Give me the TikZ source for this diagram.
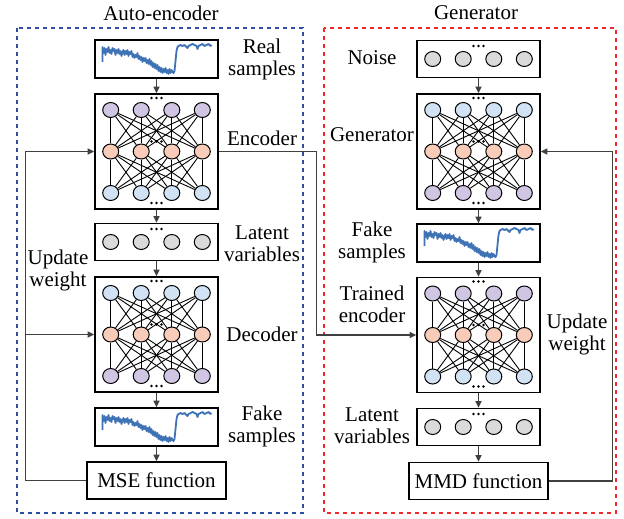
\documentclass[tikz,border=0pt]{standalone}
\usepackage{fontspec}
\setmainfont{Liberation Serif}
\usetikzlibrary{positioning,arrows.meta,shapes.geometric}

\definecolor{nPurple}{RGB}{208,198,228}
\definecolor{nOrange}{RGB}{248,204,184}
\definecolor{nBlue}{RGB}{208,226,243}
\definecolor{nGray}{RGB}{218,218,218}
\definecolor{waveBlue}{RGB}{62,114,180}
\definecolor{aeBlue}{RGB}{46,78,165}
\definecolor{genRed}{RGB}{238,40,45}
\definecolor{arrowGray}{RGB}{64,64,64}

\begin{document}
\begin{tikzpicture}[x=0.5pt, y=-0.5pt, font=\fontsize{10.5}{11}\selectfont,
  >={Triangle[length=3.4pt,width=3pt]},
  box/.style={draw, line width=0.65pt, minimum width=61.5pt, inner sep=0pt},
  netbox/.style={box, minimum height=57.5pt},
  wavebox/.style={box, minimum height=19pt},
  rowbox/.style={box, minimum height=18.5pt},
  lossbox/.style={box, minimum width=69.5pt, minimum height=18.5pt, inner sep=0pt},
  neuron/.style={draw, line width=0.5pt, ellipse, minimum width=8pt, minimum height=7.5pt, inner sep=0pt},
  link/.style={line width=0.45pt},
  lbl/.style={align=center, inner sep=0pt},
  flow/.style={->, draw=arrowGray, line width=0.75pt},
  wave/.style={draw=waveBlue, line width=0.9pt, line join=round},
  frame/.style={dashed, line width=0.6pt, dash pattern=on 2.2pt off 1.8pt}]
  \useasboundingbox (0,0) rectangle (624,518);

  % frames and titles
  \draw[frame, aeBlue] (17,28) rectangle (303,513);
  \draw[frame, genRed] (324,28) rectangle (616,513);
  \node (aeT) at (161,13) {Auto-encoder};
  \node (genT) at (476,13) {Generator};

  % left column
  \node[wavebox] (real) at (156.5,59) {};
  \node[netbox] (enc) at (156.5,151.5) {};
  \node[rowbox] (lat1) at (156.5,242) {};
  \node[netbox] (dec) at (156.5,334.5) {};
  \node[wavebox] (fake1) at (156.5,427) {};
  \node[lossbox] (mse) at (156.5,480.5) {MSE function};

  % right column
  \node[rowbox] (noise) at (478.5,59) {};
  \node[netbox] (gen) at (478.5,151.5) {};
  \node[wavebox] (fake2) at (478.5,243) {};
  \node[netbox] (ten) at (478.5,335) {};
  \node[rowbox] (lat2) at (478.5,427) {};
  \node[lossbox] (mmd) at (478.5,481) {MMD function};

  % networks
  \foreach \p/\cx/\cy/\ca/\cb/\cc in {enc/156.5/151.5/nPurple/nOrange/nBlue,
      dec/156.5/334.5/nBlue/nOrange/nPurple, gen/478.5/151.5/nBlue/nOrange/nPurple,
      ten/478.5/335/nPurple/nOrange/nBlue} {
    \foreach \r/\dy/\c in {1/-41.5/\ca, 2/0/\cb, 3/41.5/\cc}
      \foreach \i/\dx in {1/-45.8, 2/-15.3, 3/15.3, 4/45.8}
        \node[neuron, fill=\c] (\p-\r-\i) at (\cx+\dx,\cy+\dy) {};
    \foreach \i in {1,...,4}
      \foreach \j in {1,...,4} {
        \draw[link] (\p-1-\i) -- (\p-2-\j);
        \draw[link] (\p-2-\i) -- (\p-3-\j);
      }
    \foreach \dy in {-53.5,-10,51.5}
      \foreach \dx in {-5,0,5}
        \fill (\cx+\dx,\cy+\dy) circle[radius=1.3];
  }

  % latent and noise rows
  \foreach \p/\cx/\cy in {lat1/156.5/242, noise/478.5/59, lat2/478.5/427} {
    \foreach \i/\dx in {1/-45.8, 2/-15.3, 3/15.3, 4/45.8}
      \node[neuron, fill=nGray] (\p-\i) at (\cx+\dx,\cy) {};
    \foreach \dx in {-5,0,5}
      \fill (\cx+\dx,\cy-13) circle[radius=1.3];
  }

  % sample curves
  \foreach \cx/\cy in {156.5/59, 156.5/427, 478.5/243}
    \draw[wave, shift={(\cx,\cy)}] plot coordinates {(-54,3) (-54,-12) (-53,-6) (-52,-11)
      (-51,-4) (-50,-10) (-49,-7) (-48,-12) (-47,-6) (-46,-9) (-45,-5) (-44,-11) (-43,-8)
      (-42,-10) (-41,-4) (-40,-9) (-39,-6) (-38,-10) (-37,-5) (-36,-8) (-35,-3) (-34,-7)
      (-33,-9) (-32,-4) (-31,-8) (-30,-5) (-29,-9) (-28,-3) (-27,-7) (-26,-5) (-25,-8)
      (-24,-2) (-23,-5) (-22,-1) (-21,-4) (-20,-2) (-19,-6) (-18,0) (-17,-3) (-16,1)
      (-15,-2) (-14,3) (-13,-1) (-12,2) (-11,-1) (-10,4) (-9,1) (-8,5) (-7,0) (-6,6)
      (-5,2) (-4,8) (-3,4) (-2,9) (-1,5) (0,10) (1,6) (2,12) (3,8) (4,13) (5,9) (6,14)
      (7,10) (8,13) (9,9) (10,14) (11,11) (12,15) (13,10) (14,14) (15,11) (16,13) (17,14)
      (18,12) (19,2) (20,-8) (21,-12) (22,-13) (24,-14) (26,-13) (28,-14) (30,-12)
      (31,-11) (32,-13) (34,-14) (36,-15) (38,-14) (40,-13) (41,-10) (42,-13) (44,-14)
      (46,-15) (48,-13) (50,-14) (52,-15) (54,-13) (55,-14)};

  % labels
  \node[lbl] (realL) at (262,59) {Real\\samples};
  \node[lbl] (encL) at (262,138) {Encoder};
  \node[lbl] (lat1L) at (262,244) {Latent\\variables};
  \node[lbl] (upL) at (58,270) {Update\\weight};
  \node[lbl] (decL) at (262,334) {Decoder};
  \node[lbl] (fake1L) at (262,426) {Fake\\samples};
  \node[lbl] (noiseL) at (372,58) {Noise};
  \node[lbl] (genL) at (372,135) {Generator};
  \node[lbl] (fake2L) at (372,242) {Fake\\samples};
  \node[lbl] (tenL) at (372,304) {Trained\\encoder};
  \node[lbl] (upR) at (577,334) {Update\\weight};
  \node[lbl] (lat2L) at (372,426) {Latent\\variables};

  % connectors
  \draw[flow] (real.south) -- (enc.north);
  \draw[flow] (enc.south) -- (lat1.north);
  \draw[flow] (lat1.south) -- (dec.north);
  \draw[flow] (dec.south) -- (fake1.north);
  \draw[flow] (fake1.south) -- (mse.north);
  \draw[flow] (noise.south) -- (gen.north);
  \draw[flow] (gen.south) -- (fake2.north);
  \draw[flow] (fake2.south) -- (ten.north);
  \draw[flow] (ten.south) -- (lat2.north);
  \draw[flow] (lat2.south) -- (mmd.north);
  \draw[flow] (mse.west) -- ++(-61,0) coordinate (lc) |- (enc.west);
  \draw[flow] (lc |- dec.west) -- (dec.west);
  \draw[flow] (enc.east) -- ++(98,0) |- (ten.west);
  \draw[flow] (mmd.east) -- ++(64,0) |- (gen.east);
\end{tikzpicture}
\end{document}
